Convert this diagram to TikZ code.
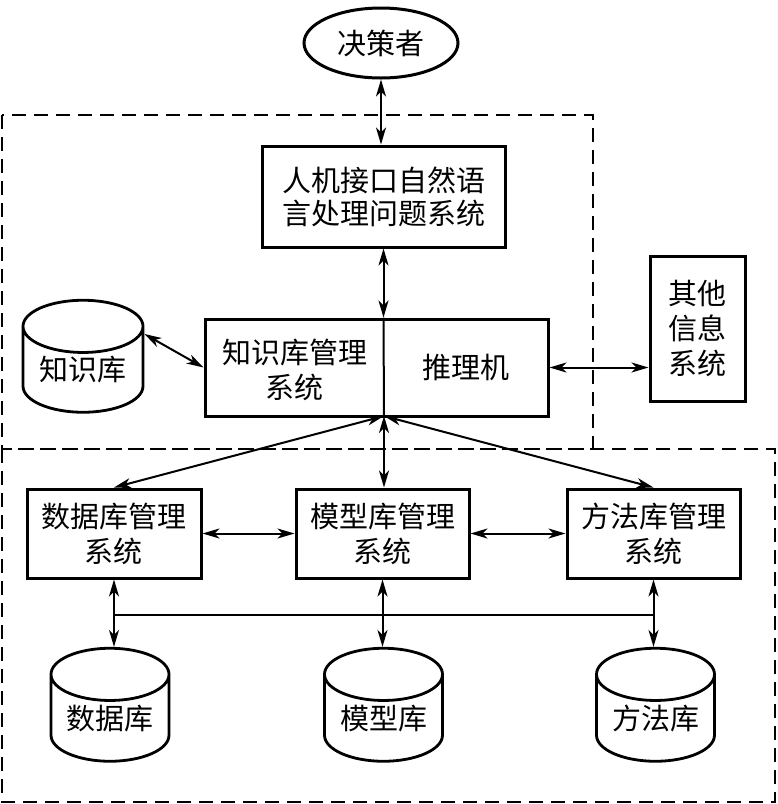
\documentclass[tikz,border=0pt]{standalone}
\usepackage{fontspec}
\newfontfamily\cjk{Noto Sans CJK SC}
\usetikzlibrary{arrows.meta,shapes.geometric}
\begin{document}
\begin{tikzpicture}[x=1pt,y=-1pt,
    box/.style={draw,line width=3pt,inner sep=0pt,align=center},
    cyl/.style={draw,line width=2.8pt,cylinder,shape border rotate=90,aspect=0.6,
                minimum width=118pt,minimum height=113pt,inner sep=0pt},
    txt/.style={align=center,inner sep=0pt},
    every node/.style={font=\cjk\fontsize{29}{35}\selectfont},
    link/.style={line width=2pt,{Stealth[length=17pt,width=10pt,inset=5pt]}-{Stealth[length=17pt,width=10pt,inset=5pt]}},
    zone/.style={line width=2pt,dash pattern=on 14pt off 8pt}]
                    \useasboundingbox (0,0) rectangle (778,804);
                    
                    \draw [zone] (2,115) rectangle (593,449);
                    \draw [zone] (2,449) rectangle (775,802);
                    
                    \node [box,ellipse,minimum width=154pt,minimum height=70pt] (dm) at (381,43) {决策者};
                    \node [box,minimum width=243pt,minimum height=101pt,
                           font=\cjk\fontsize{29}{33}\selectfont] (hci) at (383.5,196.5) {人机接口自然语\\言处理问题系统};
                    
                    \node [box,minimum width=343pt,minimum height=97pt] (core) at (376.5,367.5) {};
                    \node [txt] (kbm) at (294.5,370) {知识库管理\\系统};
                    \node [txt] (ie) at (466,367.5) {推理机};
                    \coordinate (hub) at (384,416);
                    
                    \node [cyl,minimum width=120pt,minimum height=112pt] (kb) at (83,370) {知识库};
                    \node [box,minimum width=95pt,minimum height=145pt] (other) at (697.5,328.5) {其他\\信息\\系统};
                    
                    \node [box,minimum width=174pt,minimum height=89pt] (dbm) at (114,533.5) {数据库管理\\系统};
                    \node [box,minimum width=173pt,minimum height=89pt] (mbm) at (382.5,533.5) {模型库管理\\系统};
                    \node [box,minimum width=173pt,minimum height=89pt] (mtm) at (653.5,533.5) {方法库管理\\系统};
                    
                    \node [cyl] (db) at (110,718.5) {数据库};
                    \node [cyl] (mb) at (383.5,718.5) {模型库};
                    \node [cyl] (mt) at (655.5,718.5) {方法库};
                    
                    \draw [link] (dm.south) -- (dm.south |- hci.north);
                    \draw [link] (hci.south) -- (hci.south |- core.north);
                    \draw [line width=2pt] (hci.south |- core.north) -- (hub);
                    \draw [link] ([yshift=36pt]kb.east) -- (core.west);
                    \draw [link] (core.east) -- (core.east -| other.west);
                    
                    \draw [link] (hub) -- (dbm.north);
                    \draw [link] (hub) -- (hub |- mbm.north);
                    \draw [link] (hub) -- (mtm.north);
                    \draw [link] (dbm.east) -- (mbm.west);
                    \draw [link] (mbm.east) -- (mtm.west);
                    
                    \draw [link] (dbm.south) -- (dbm.south |- db.north);
                    \draw [link] (mbm.south) -- (mbm.south |- mb.north);
                    \draw [link] (mtm.south) -- (mtm.south |- mt.north);
                    \draw [line width=2pt] ([yshift=-35pt]dbm.south) -- ([yshift=-35pt]mtm.south);
\end{tikzpicture}
\end{document}
